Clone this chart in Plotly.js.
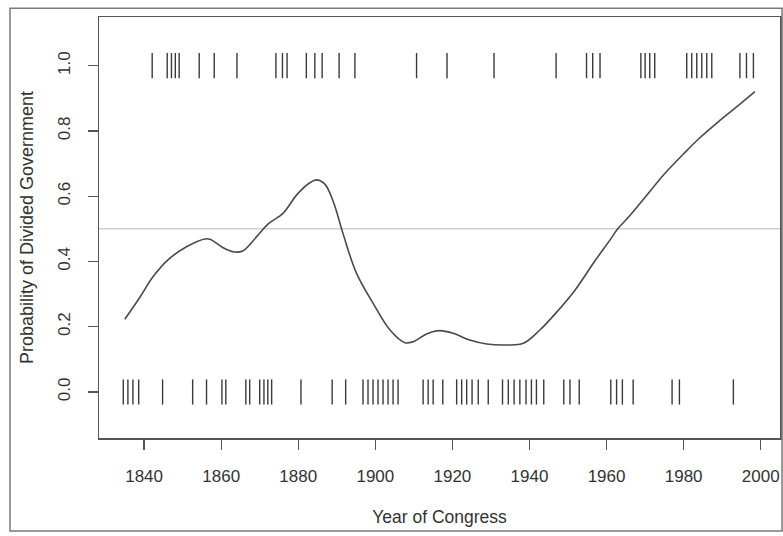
<!DOCTYPE html>
<html>
<head>
<meta charset="utf-8">
<script src="https://cdn.plot.ly/plotly-3.0.1.min.js"></script>
<style>html,body{margin:0;padding:0;background:#fff;}#chart{width:783px;height:536px;}</style>
</head>
<body>
<div id="chart"></div>
<script>
// Smoothed probability of divided government
const curveYears = [1835, 1839, 1842.3, 1846.2, 1851, 1855.8, 1857.1, 1860.5, 1863.5, 1865.7, 1869.2, 1872.2, 1876.1, 1879.6, 1883, 1884.7, 1886.9, 1889.1, 1891.6, 1895.1, 1899.4, 1903.8, 1907.7, 1909.8, 1913.3, 1916.7, 1920.2, 1924.5, 1928.9, 1934.1, 1938.4, 1942.7, 1947, 1951.8, 1957, 1960.9, 1962.9, 1966, 1970, 1975, 1980, 1984.2, 1989.4, 1994.6, 1998.5];
const curveProb  = [0.223, 0.292, 0.353, 0.405, 0.445, 0.469, 0.468, 0.442, 0.429, 0.433, 0.476, 0.515, 0.548, 0.604, 0.641, 0.650, 0.637, 0.583, 0.486, 0.364, 0.272, 0.190, 0.151, 0.154, 0.178, 0.188, 0.180, 0.159, 0.147, 0.144, 0.149, 0.190, 0.244, 0.312, 0.402, 0.466, 0.500, 0.540, 0.597, 0.668, 0.730, 0.779, 0.832, 0.882, 0.920];

// Congresses with divided government (rug at 1)
const dividedYears = [1842.1, 1846.0, 1847.1, 1848.1, 1849.1, 1854.3, 1858.2, 1864.1, 1874.2, 1875.9, 1877.1, 1882.1, 1884.3, 1886.2, 1890.6, 1894.7, 1910.7, 1918.6, 1930.8, 1946.9, 1954.8, 1956.4, 1958.3, 1968.9, 1970.0, 1971.2, 1972.5, 1980.8, 1982.1, 1983.4, 1984.7, 1986.0, 1987.3, 1994.6, 1996.3, 1998.1];
// Congresses with unified government (rug at 0)
const unifiedYears = [1834.6, 1835.8, 1837.1, 1838.6, 1844.8, 1852.6, 1856.2, 1860.2, 1861.2, 1866.4, 1867.4, 1870.0, 1871.1, 1872.1, 1873.1, 1880.7, 1888.8, 1892.3, 1896.8, 1898.1, 1899.4, 1900.7, 1902.0, 1903.3, 1904.6, 1905.9, 1912.4, 1913.7, 1915.0, 1917.5, 1921.1, 1922.4, 1923.7, 1925.1, 1926.7, 1929.3, 1933.0, 1934.5, 1936.0, 1937.5, 1939.1, 1940.5, 1941.8, 1943.7, 1948.9, 1950.5, 1952.9, 1961.1, 1962.6, 1964.1, 1966.9, 1977.0, 1978.9, 1992.9];

const xTicks = [1840, 1860, 1880, 1900, 1920, 1940, 1960, 1980, 2000];
const yTicks = [0.0, 0.2, 0.4, 0.6, 0.8, 1.0];
const yTickText = ['0.0', '0.2', '0.4', '0.6', '0.8', '1.0'];

const ink = '#3a3a3a';
const traces = [
  {
    x: curveYears, y: curveProb, type: 'scatter', mode: 'lines',
    line: {color: '#4a4a4a', width: 1.6, shape: 'spline', smoothing: 1},
    hoverinfo: 'skip', showlegend: false
  },
  {
    x: dividedYears, y: dividedYears.map(() => 1), type: 'scatter', mode: 'markers',
    marker: {symbol: 'line-ns', size: 18, line: {color: ink, width: 1.4}},
    hoverinfo: 'skip', showlegend: false
  },
  {
    x: unifiedYears, y: unifiedYears.map(() => 0), type: 'scatter', mode: 'markers',
    marker: {symbol: 'line-ns', size: 18, line: {color: ink, width: 1.4}},
    hoverinfo: 'skip', showlegend: false
  }
];

const layout = {
  width: 783, height: 536,
  margin: {l: 99, r: 3, t: 17, b: 98},
  paper_bgcolor: '#ffffff', plot_bgcolor: '#ffffff',
  font: {family: 'Liberation Sans, Arial, sans-serif', color: '#333', size: 16},
  showlegend: false,
  xaxis: {
    range: [1828.3, 2005.0],
    tickmode: 'array', tickvals: xTicks, ticktext: xTicks.map(String),
    ticks: 'outside', ticklen: 10, tickwidth: 1.2, tickcolor: '#555',
    showline: true, mirror: true, linecolor: '#555', linewidth: 1.5,
    showgrid: false, zeroline: false,
    ticklabelstandoff: 12,
    tickfont: {size: 17, color: '#333'},
    title: {text: 'Year of Congress', font: {size: 17.5, color: '#333'}, standoff: 26}
  },
  yaxis: {
    range: [-0.141, 1.149],
    tickmode: 'array', tickvals: yTicks, ticktext: yTickText,
    ticks: 'outside', ticklen: 10, tickwidth: 1.2, tickcolor: '#555',
    tickangle: -90,
    showline: true, mirror: true, linecolor: '#555', linewidth: 1.5,
    showgrid: false, zeroline: false,
    ticklabelstandoff: 11,
    tickfont: {size: 17, color: '#333'},
    title: {text: 'Probability of Divided Government', font: {size: 18, color: '#333'}, standoff: 16}
  },
  shapes: [
    {type: 'line', xref: 'paper', x0: 0, x1: 1, yref: 'y', y0: 0.5, y1: 0.5,
     line: {color: '#cfcfcf', width: 1.5}, layer: 'below'},
    {type: 'rect', xref: 'paper', yref: 'paper', x0: -0.1307, x1: 1.003, y0: -0.221, y1: 1.021,
     line: {color: '#7a7a7a', width: 1.5}, fillcolor: 'rgba(0,0,0,0)'}
  ]
};

Plotly.newPlot('chart', traces, layout, {displayModeBar: false, staticPlot: true});
</script>
</body>
</html>
